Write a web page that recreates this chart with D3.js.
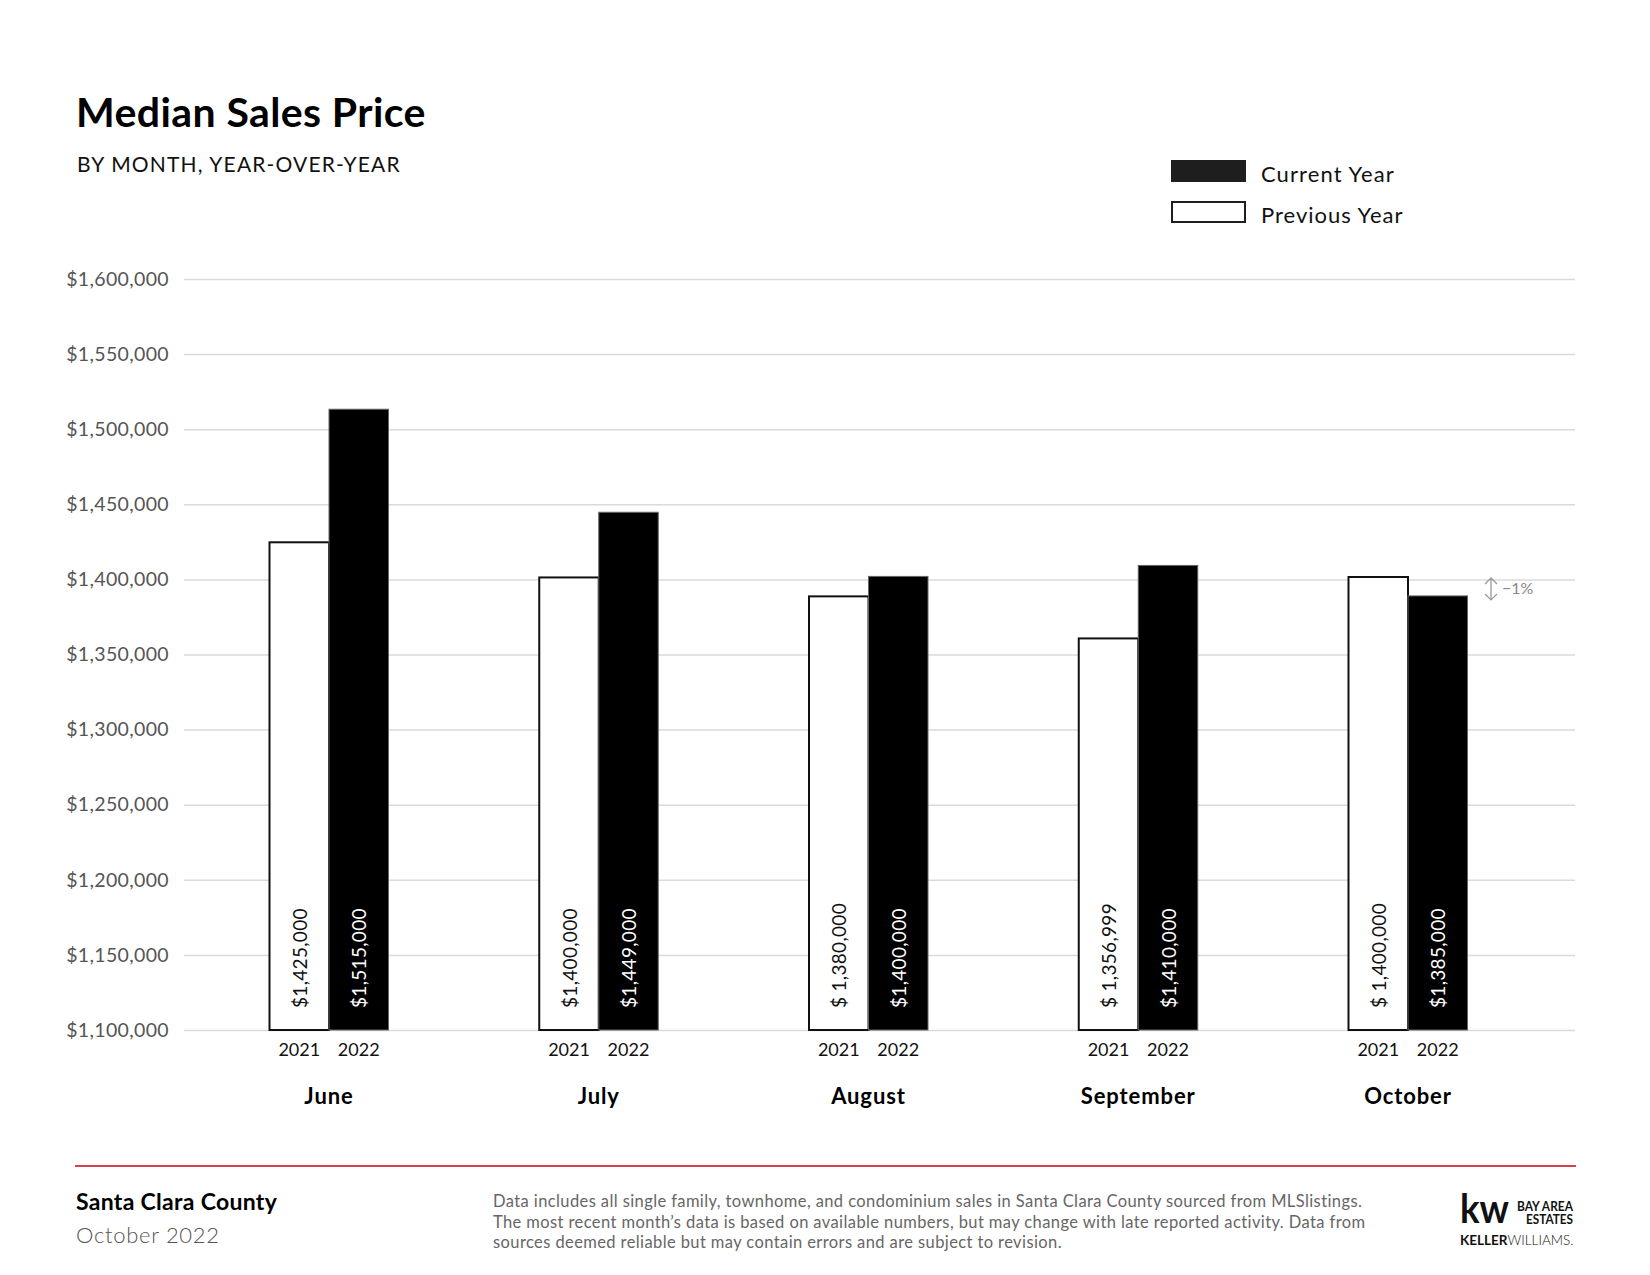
<!DOCTYPE html>
<html>
<head>
<meta charset="utf-8">
<script src="https://cdn.jsdelivr.net/npm/d3@7"></script>
<style>
  body { margin: 0; background: #fff; }
  svg { display: block; font-family: Lato, "Noto Sans", sans-serif; }
</style>
</head>
<body>
<div id="chart"></div>
<script>
// Data
const months = ["June", "July", "August", "September", "October"];
const years = ["2021", "2022"];
const previousValues = [1424700, 1401300, 1388700, 1360700, 1401600];
const currentValues = [1513300, 1444700, 1402000, 1409300, 1389000];
const previousLabels = ["$1,425,000", "$1,400,000", "$ 1,380,000", "$ 1,356,999", "$ 1,400,000"];
const currentLabels = ["$1,515,000", "$1,449,000", "$1,400,000", "$1,410,000", "$1,385,000"];
const yTicks = [1100000, 1150000, 1200000, 1250000, 1300000, 1350000, 1400000, 1450000, 1500000, 1550000, 1600000];
const changeLabel = "\u22121%";

const width = 1650;
const height = 1275;
const plot = { left: 184, right: 1575, top: 279, bottom: 1030 };

const svg = d3.select("#chart")
  .append("svg")
  .attr("width", width)
  .attr("height", height);

// Title block
svg.append("text")
  .attr("x", 76).attr("y", 127)
  .attr("font-size", 41).attr("font-weight", 700).attr("fill", "#000")
  .attr("letter-spacing", 0.4)
  .text("Median Sales Price");

svg.append("text")
  .attr("x", 77).attr("y", 172)
  .attr("font-size", 21).attr("fill", "#111")
  .attr("letter-spacing", 1.15)
  .text("BY MONTH, YEAR-OVER-YEAR");

// Legend
const legend = svg.append("g");
legend.append("rect")
  .attr("x", 1171).attr("y", 160).attr("width", 75).attr("height", 22)
  .attr("fill", "#1e1e1e");
legend.append("text")
  .attr("x", 1261).attr("y", 182)
  .attr("font-size", 22).attr("fill", "#111").attr("letter-spacing", 1.1)
  .text("Current Year");
legend.append("rect")
  .attr("x", 1172).attr("y", 202).attr("width", 73).attr("height", 20)
  .attr("fill", "#fff").attr("stroke", "#1e1e1e").attr("stroke-width", 2);
legend.append("text")
  .attr("x", 1261).attr("y", 223)
  .attr("font-size", 22).attr("fill", "#111").attr("letter-spacing", 1)
  .text("Previous Year");

// Scales
const y = d3.scaleLinear()
  .domain([1100000, 1600000])
  .range([plot.bottom, plot.top]);

const x = d3.scalePoint()
  .domain(months)
  .range([329, 1408]);

const xYear = d3.scaleBand()
  .domain(years)
  .range([-59.5, 59.5]);

// Y axis with gridlines
const yAxis = svg.append("g")
  .attr("transform", `translate(${plot.left},0)`)
  .call(d3.axisLeft(y)
    .tickValues(yTicks)
    .tickFormat(d3.format("$,"))
    .tickSize(-(plot.right - plot.left))
    .tickPadding(15));
yAxis.select(".domain").remove();
yAxis.selectAll(".tick line")
  .attr("stroke", "#dadada").attr("stroke-width", 1.5);
yAxis.selectAll(".tick text")
  .attr("font-family", "Lato, sans-serif")
  .attr("font-size", 19.5).attr("fill", "#555")
  .attr("letter-spacing", 0.35);

// Bars
const groups = svg.selectAll(".month")
  .data(months)
  .enter()
  .append("g")
  .attr("class", "month")
  .attr("transform", d => `translate(${x(d)},0)`);

groups.append("rect")
  .attr("x", xYear("2021"))
  .attr("y", (d, i) => y(previousValues[i]))
  .attr("width", xYear.bandwidth())
  .attr("height", (d, i) => y(1100000) - y(previousValues[i]))
  .attr("fill", "#fff")
  .attr("stroke", "#111")
  .attr("stroke-width", 2);

groups.append("rect")
  .attr("x", xYear("2022"))
  .attr("y", (d, i) => y(currentValues[i]))
  .attr("width", xYear.bandwidth())
  .attr("height", (d, i) => y(1100000) - y(currentValues[i]))
  .attr("fill", "#000")
  .attr("stroke", "#666")
  .attr("stroke-width", 1);

// Value labels inside the bars, reading upward
const labelY = y(1100000) - 22;
groups.append("text")
  .attr("transform", `translate(${xYear("2021") + xYear.bandwidth() / 2},${labelY}) rotate(-90)`)
  .attr("dominant-baseline", "central")
  .attr("font-size", 19).attr("fill", "#111").attr("letter-spacing", 0.3)
  .text((d, i) => previousLabels[i]);

groups.append("text")
  .attr("transform", `translate(${xYear("2022") + xYear.bandwidth() / 2},${labelY}) rotate(-90)`)
  .attr("dominant-baseline", "central")
  .attr("font-size", 19).attr("fill", "#fff").attr("letter-spacing", 0.3)
  .text((d, i) => currentLabels[i]);

// Year labels and month names
years.forEach(yr => {
  groups.append("text")
    .attr("x", xYear(yr) + xYear.bandwidth() / 2)
    .attr("y", 1056)
    .attr("text-anchor", "middle")
    .attr("font-size", 18).attr("fill", "#111")
    .text(yr);
});

groups.append("text")
  .attr("x", 0)
  .attr("y", 1104)
  .attr("text-anchor", "middle")
  .attr("font-size", 22).attr("font-weight", 700).attr("fill", "#000")
  .attr("letter-spacing", 0.9)
  .text(d => d);

// Change annotation next to the last month
const last = months.length - 1;
const ax = x(months[last]) + 83;
const ay1 = y(previousValues[last]) + 1;
const ay2 = y(currentValues[last]) + 4;
const note = svg.append("g").attr("stroke", "#999").attr("stroke-width", 1.3).attr("fill", "none");
note.append("path").attr("d", `M${ax},${ay1}V${ay2}`);
note.append("path").attr("d", `M${ax - 6},${ay1 + 6}L${ax},${ay1}L${ax + 6},${ay1 + 6}`);
note.append("path").attr("d", `M${ax - 6},${ay2 - 6}L${ax},${ay2}L${ax + 6},${ay2 - 6}`);
svg.append("text")
  .attr("x", ax + 11).attr("y", ay1 + 16)
  .attr("font-size", 16).attr("fill", "#888")
  .text(changeLabel);

// Footer
svg.append("line")
  .attr("x1", 75).attr("x2", 1576)
  .attr("y1", 1166).attr("y2", 1166)
  .attr("stroke", "#cf4450").attr("stroke-width", 2);

svg.append("text")
  .attr("x", 76).attr("y", 1210)
  .attr("font-size", 23).attr("font-weight", 700).attr("fill", "#000")
  .attr("letter-spacing", 0.3)
  .text("Santa Clara County");
svg.append("text")
  .attr("x", 76).attr("y", 1243)
  .attr("font-size", 22).attr("font-weight", 300).attr("fill", "#555")
  .attr("letter-spacing", 0.7)
  .text("October 2022");

const footnote = [
  "Data includes all single family, townhome, and condominium sales in Santa Clara County sourced from MLSlistings.",
  "The most recent month\u2019s data is based on available numbers, but may change with late reported activity. Data from",
  "sources deemed reliable but may contain errors and are subject to revision."
];
svg.selectAll(".footnote")
  .data(footnote)
  .enter()
  .append("text")
  .attr("class", "footnote")
  .attr("x", 493)
  .attr("y", (d, i) => 1207 + i * 20.5)
  .attr("font-size", 16.5).attr("fill", "#666")
  .attr("letter-spacing", 0.4)
  .text(d => d);

// Logo
const logo = svg.append("g").attr("fill", "#111");
logo.append("text")
  .attr("x", 1460).attr("y", 1223)
  .attr("font-size", 40).attr("font-weight", 700)
  .attr("textLength", 49).attr("lengthAdjust", "spacingAndGlyphs")
  .text("kw");
logo.append("text")
  .attr("x", 1517).attr("y", 1211)
  .attr("font-size", 13).attr("font-weight", 700)
  .attr("textLength", 56).attr("lengthAdjust", "spacingAndGlyphs")
  .text("BAY AREA");
logo.append("text")
  .attr("x", 1526).attr("y", 1224)
  .attr("font-size", 13).attr("font-weight", 700)
  .attr("textLength", 47).attr("lengthAdjust", "spacingAndGlyphs")
  .text("ESTATES");
const kwText = logo.append("text")
  .attr("x", 1460).attr("y", 1245)
  .attr("font-size", 13.5);
kwText.append("tspan").attr("font-weight", 700).text("KELLER");
kwText.append("tspan").attr("font-weight", 300).text("WILLIAMS.");
</script>
</body>
</html>
